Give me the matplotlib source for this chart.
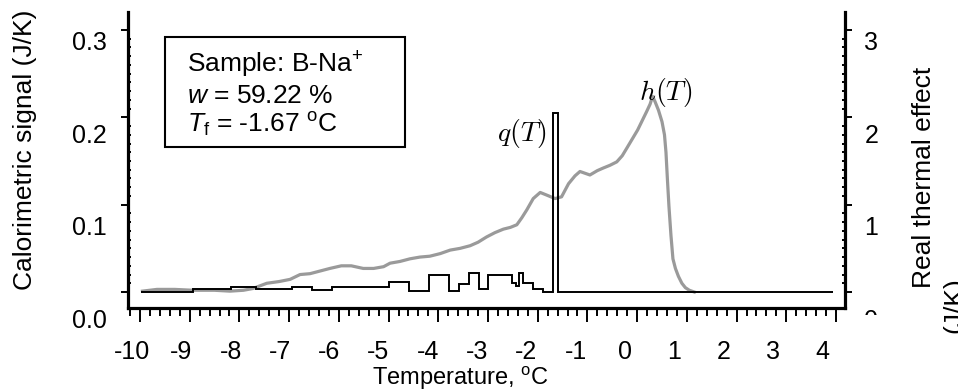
import matplotlib
matplotlib.use('Agg')
import matplotlib.pyplot as plt
import numpy as np
from matplotlib.ticker import FixedLocator, MultipleLocator
from matplotlib.patches import Rectangle

plt.rcParams['font.family'] = 'Liberation Sans'
plt.rcParams['mathtext.fontset'] = 'custom'
plt.rcParams['mathtext.rm'] = 'Liberation Sans'
plt.rcParams['mathtext.it'] = 'Liberation Sans:italic'
plt.rcParams['mathtext.bf'] = 'Liberation Sans:bold'

# h(T): calorimetric signal (J/K), left axis
h_T = [-9.95, -9.66, -9.3, -8.93, -8.5, -8.19, -7.92, -7.73, -7.45, -7.2, -6.98,
       -6.78, -6.58, -6.38, -6.18, -5.95, -5.75, -5.51, -5.3, -5.1, -4.97, -4.77,
       -4.57, -4.37, -4.17, -3.96, -3.76, -3.56, -3.36, -3.2, -3.03, -2.86, -2.69,
       -2.55, -2.42, -2.32, -2.22, -2.09, -1.95, -1.82, -1.65, -1.52, -1.38, -1.25,
       -1.15, -1.05, -0.95, -0.8, -0.68, -0.55, -0.41, -0.3, -0.21, -0.1, 0.01,
       0.1, 0.19, 0.26, 0.31, 0.36, 0.43, 0.50, 0.55, 0.58, 0.61, 0.64, 0.68,
       0.72, 0.77, 0.83, 0.90, 0.97, 1.05, 1.15]
h_val = [0.001, 0.003, 0.003, 0.002, 0.002, 0.001, 0.002, 0.004, 0.010, 0.012, 0.0145,
         0.020, 0.021, 0.024, 0.027, 0.030, 0.030, 0.027, 0.027, 0.029, 0.033, 0.035,
         0.038, 0.040, 0.041, 0.044, 0.048, 0.050, 0.053, 0.057, 0.063, 0.068, 0.072,
         0.074, 0.077, 0.085, 0.094, 0.107, 0.114, 0.111, 0.107, 0.109, 0.124, 0.133,
         0.138, 0.136, 0.134, 0.139, 0.142, 0.145, 0.149, 0.156, 0.1645, 0.175, 0.1855,
         0.196, 0.2065, 0.215, 0.224, 0.218, 0.208, 0.195, 0.180, 0.160, 0.128, 0.098, 0.065,
         0.038, 0.027, 0.018, 0.010, 0.005, 0.002, 0.0]

# q(T): real thermal effect (J/K), right axis, step histogram
q_edges = [-9.97, -8.93, -8.16, -7.67, -6.95, -6.55, -6.14, -5.00, -4.58, -4.18,
           -3.78, -3.58, -3.38, -3.18, -3.00, -2.52, -2.44, -2.37, -2.30, -2.09,
           -1.89, -1.69, -1.59, 3.93]
q_val = [0.0, 0.034, 0.057, 0.034, 0.057, 0.019, 0.063, 0.111, 0.015, 0.195,
         0.015, 0.095, 0.214, 0.031, 0.195, 0.107, 0.069, 0.214, 0.10, 0.031,
         0.0, 2.046, 0.0]

x_ticks = list(range(-10, 5))
left_ticks = [0.0, 0.1, 0.2, 0.3]
right_ticks = [0, 1, 2, 3]

W, H = 958, 391
fig = plt.figure(figsize=(W / 100, H / 100), dpi=100)

def fx(px):
    return px / W

def fy(py):
    return 1 - py / H

# main axes
ax = fig.add_axes([fx(128), fy(308), fx(845) - fx(128), fy(12) - fy(308)])
ax.plot(h_T, h_val, color='#9a9a9a', lw=2.3, solid_joinstyle='round')
ax.set_xlim(-10.241, 4.181)
ax.set_ylim(-0.0183, 0.3206)
for s in ['top', 'right']:
    ax.spines[s].set_visible(False)
for s in ['left', 'bottom']:
    ax.spines[s].set_linewidth(2.3)
ax.set_xticks(x_ticks)
ax.xaxis.set_minor_locator(MultipleLocator(0.2))
ax.set_yticks(left_ticks)
ax.yaxis.set_minor_locator(FixedLocator(np.arange(0, 0.3001, 0.01)))
ax.tick_params(axis='x', which='major', direction='out', length=10, width=1.4, labelbottom=False)
ax.tick_params(axis='x', which='minor', direction='out', length=5.5, width=1.4)
ax.tick_params(axis='y', which='major', direction='out', length=5, width=1.4, labelleft=False)
ax.tick_params(axis='y', which='minor', direction='in', length=2.2, width=1.4)

ax2 = ax.twinx()
ax2.stairs(q_val, q_edges, color='black', lw=1.4, baseline=None)
ax2.set_ylim(-0.183, 3.206)
for s in ['top', 'left', 'bottom']:
    ax2.spines[s].set_visible(False)
ax2.spines['right'].set_linewidth(2.3)
ax2.set_yticks(right_ticks)
ax2.yaxis.set_minor_locator(FixedLocator(np.arange(0, 3.001, 0.1)))
ax2.tick_params(axis='y', which='major', direction='out', length=5, width=1.4, labelright=False)
ax2.tick_params(axis='y', which='minor', direction='in', length=2.2, width=1.4)

ax.text(0.58, 0.229, r'$h(T)$', math_fontfamily='cm', fontsize=20, ha='center', va='center')
ax.text(-2.32, 0.182, r'$q(T)$', math_fontfamily='cm', fontsize=20, ha='center', va='center')

# tick label axes (labels sit slightly off the tick marks in the original)
axl = fig.add_axes([fx(128), fy(318), fx(845) - fx(128), fy(41) - fy(318)])
axl.set_frame_on(False)
axl.set_ylim(0, 0.3)
axl.set_yticks(left_ticks)
axl.set_yticklabels(['%.1f' % v for v in left_ticks])
axl.set_xticks([])
axl.tick_params(axis='y', length=0, pad=15, labelsize=18)

axr = fig.add_axes([fx(128), fy(318), fx(845) - fx(128), fy(41) - fy(318)])
axr.set_frame_on(False)
axr.set_ylim(0, 3)
axr.set_yticks(right_ticks)
axr.set_yticklabels([str(v) for v in right_ticks])
axr.set_xticks([])
axr.tick_params(axis='y', length=0, pad=14, labelsize=18, left=False, labelleft=False,
                right=True, labelright=True)

axb = fig.add_axes([fx(132), fy(308), fx(822) - fx(132), 0.01])
axb.set_frame_on(False)
axb.set_xlim(-10, 4)
axb.set_xticks(x_ticks)
axb.set_xticklabels([str(v) for v in x_ticks])
axb.set_yticks([])
axb.tick_params(axis='x', length=0, pad=23, labelsize=18)

# axis titles
fig.text(fx(460), fy(378), r'Temperature, $^{\mathrm{o}}$C', fontsize=17, ha='center', va='center')
fig.text(fx(25.5), fy(150), 'Calorimetric signal (J/K)', fontsize=19, rotation=90,
         ha='center', va='center')
fig.text(fx(924), fy(177), 'Real thermal effect', fontsize=19, rotation=90,
         ha='center', va='center')
fig.text(fx(954), fy(305), '(J/K)', fontsize=19, rotation=90, ha='center', va='center')

# info box
fig.add_artist(Rectangle((fx(165), fy(147)), fx(405) - fx(165), fy(37) - fy(147),
                         transform=fig.transFigure, facecolor='none', edgecolor='black', lw=1.5))
fig.text(fx(187), fy(73), r'Sample: B-Na$^{+}$', fontsize=19, va='baseline')
fig.text(fx(187), fy(103), r'$w$ = 59.22 %', fontsize=19, va='baseline')
fig.text(fx(187), fy(133), r'$T_{\mathrm{f}}$ = -1.67 $^{\mathrm{o}}$C', fontsize=19, va='baseline')

# the right "0" label is cut off in the original
fig.add_artist(Rectangle((fx(855), fy(345)), fx(900) - fx(855), fy(315) - fy(345),
                         transform=fig.transFigure, facecolor='white', edgecolor='none', zorder=10))

fig.savefig('out.png', dpi=100)
